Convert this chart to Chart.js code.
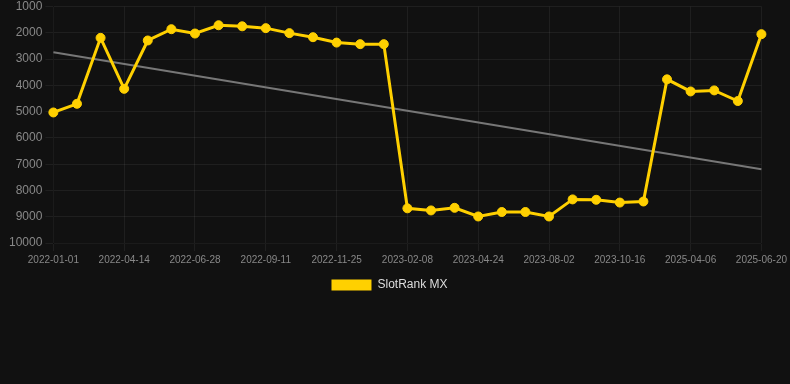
<!DOCTYPE html>
<html>
<head>
<meta charset="utf-8">
<script src="https://cdn.jsdelivr.net/npm/chart.js@4"></script>
<style>
  html, body { margin: 0; padding: 0; background: #111111; }
  #wrap { width: 790px; height: 301px; }
</style>
</head>
<body>
<div id="wrap"><canvas id="rankChart"></canvas></div>
<script>
// dates (only every 3rd one is shown on the axis)
const labels = [
  '2022-01-01', '2022-02-04', '2022-03-10', '2022-04-14', '2022-05-09', '2022-06-03',
  '2022-06-28', '2022-07-23', '2022-08-17', '2022-09-11', '2022-10-06', '2022-10-31',
  '2022-11-25', '2022-12-20', '2023-01-14', '2023-02-08', '2023-03-05', '2023-03-30',
  '2023-04-24', '2023-05-29', '2023-06-28', '2023-08-02', '2023-08-27', '2023-09-21',
  '2023-10-16', '2023-11-10', '2025-03-12', '2025-04-06', '2025-05-01', '2025-05-26',
  '2025-06-20'
];

// rank values
const rankValues = [
  5030, 4700, 2190, 4130, 2290, 1860, 2025, 1710, 1750, 1820, 2010, 2165,
  2370, 2430, 2430, 8680, 8760, 8660, 8990, 8820, 8820, 8990, 8340, 8355,
  8460, 8420, 3770, 4230, 4190, 4595, 2050
];

// trend line: only its two ends, joined across the gap
const trendStart = 2740;
const trendEnd = 7190;
const trendValues = labels.map((d, i) => i === 0 ? trendStart : (i === labels.length - 1 ? trendEnd : null));

const yTicks = [1000, 2000, 3000, 4000, 5000, 6000, 7000, 8000, 9000, 10000];

const gridColor = 'rgba(255,255,255,0.06)';

const ctx = document.getElementById('rankChart').getContext('2d');
new Chart(ctx, {
  type: 'line',
  data: {
    labels: labels,
    datasets: [
      {
        label: 'SlotRank MX',
        data: rankValues,
        borderColor: '#FFD000',
        backgroundColor: '#FFD000',
        borderWidth: 3,
        pointRadius: 4.5,
        pointBorderWidth: 1,
        pointBackgroundColor: '#FFD000',
        tension: 0,
        order: 1
      },
      {
        label: 'trend',
        data: trendValues,
        borderColor: '#777777',
        borderWidth: 2,
        pointRadius: 0,
        spanGaps: true,
        tension: 0,
        order: 2
      }
    ]
  },
  options: {
    responsive: true,
    maintainAspectRatio: false,
    animation: false,
    layout: { padding: { top: 0, left: 6, right: 17 } },
    plugins: {
      legend: {
        position: 'bottom',
        labels: {
          color: '#dddddd',
          font: { family: 'Liberation Sans, Arial', size: 12 },
          boxWidth: 40,
          boxHeight: 11,
          generateLabels: chart => Chart.defaults.plugins.legend.labels.generateLabels(chart)
            .filter(item => item.text !== 'trend')
            .map(item => Object.assign(item, { lineWidth: 0 }))
        }
      },
      tooltip: { enabled: false }
    },
    scales: {
      x: {
        grid: {
          color: c => (c.index % 3 === 0 ? gridColor : 'transparent')
        },
        ticks: {
          autoSkip: false,
          maxRotation: 0,
          color: '#888888',
          font: { family: 'Liberation Sans, Arial', size: 10 },
          callback: function (v, i) { return i % 3 === 0 ? labels[i] : ''; }
        }
      },
      y: {
        reverse: true,
        min: 1000,
        max: 10000,
        afterBuildTicks: axis => { axis.ticks = yTicks.map(v => ({ value: v })); },
        grid: { color: gridColor },
        ticks: {
          color: '#888888',
          font: { family: 'Liberation Sans, Arial', size: 12, lineHeight: 0.6 },
          callback: v => String(v)
        }
      }
    }
  }
});
</script>
</body>
</html>
